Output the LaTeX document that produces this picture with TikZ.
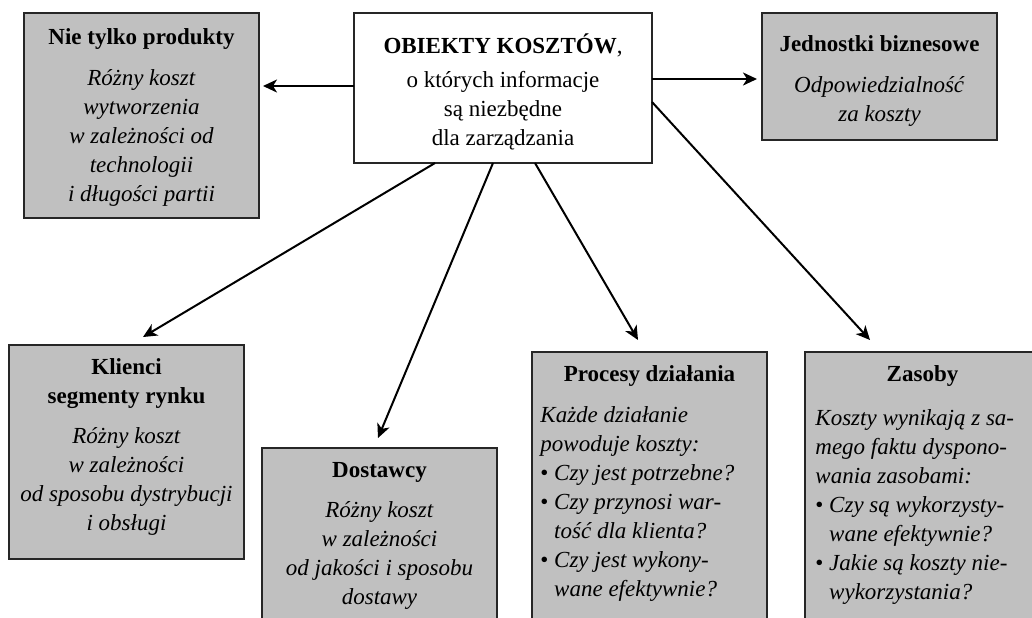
\documentclass[tikz,border=0pt]{standalone}
\usepackage{fontspec}
\setmainfont{Liberation Serif}
\usetikzlibrary{calc,arrows.meta}

\definecolor{boxgray}{RGB}{192,192,192}

\tikzset{
  objbox/.style = {rectangle, draw=black!85, line width=0.6pt, fill=boxgray,
    inner sep=0pt, outer sep=0pt, anchor=north west},
  boxtext/.style = {align=center, inner sep=0pt, anchor=north,
    font=\fontsize{11.5}{14.5}\selectfont},
  listtext/.style = {boxtext, align=left, anchor=north west},
  link/.style = {-{Stealth[length=7pt,width=6.5pt,inset=2pt]}, line width=1pt}
}

\newcommand{\bul}{\textbullet\ }
\newcommand{\nobul}{\hphantom{\textbullet\ }}

\begin{document}
\begin{tikzpicture}[x=0.5pt, y=-0.5pt]
  \clip (0,0) rectangle (1032,617);

  % boxes
  \node[objbox, fill=white, minimum width=149pt, minimum height=75pt] (obj) at (354,13) {};
  \node[objbox, minimum width=117.5pt, minimum height=102.5pt] (prod) at (24,13) {};
  \node[objbox, minimum width=117.5pt, minimum height=63.5pt] (jedn) at (762,13) {};
  \node[objbox, minimum width=117.5pt, minimum height=107pt] (klient) at (9,345) {};
  \node[objbox, minimum width=117.5pt, minimum height=110pt] (dost) at (262,448) {};
  \node[objbox, minimum width=117.5pt, minimum height=160pt] (proc) at (532,352) {};
  \node[objbox, minimum width=117.5pt, minimum height=160pt] (zas) at (805,352) {};

  % texts
  \node[boxtext] (objtxt) at ($(obj.north)+(0,20)$)
    {\textbf{OBIEKTY KOSZTÓW},\\[2.5pt] o których informacje\\ są niezbędne\\ dla zarządzania};
  \node[boxtext] (prodtxt) at ($(prod.north)+(0,15)$)
    {\textbf{Nie tylko produkty}\\[6pt] \textit{Różny koszt}\\ \textit{wytworzenia}\\
     \textit{w zależności od}\\ \textit{technologii}\\ \textit{i długości partii}};
  \node[boxtext] (jedntxt) at ($(jedn.north)+(0,22)$)
    {\textbf{Jednostki biznesowe}\\[6pt] \textit{Odpowiedzialność}\\ \textit{za koszty}};
  \node[boxtext] (klienttxt) at ($(klient.north)+(0,13)$)
    {\textbf{Klienci}\\ \textbf{segmenty rynku}\\[5.5pt] \textit{Różny koszt}\\
     \textit{w zależności}\\ \textit{od sposobu dystrybucji}\\ \textit{i obsługi}};
  \node[boxtext] (dosttxt) at ($(dost.north)+(0,14)$)
    {\textbf{Dostawcy}\\[5.5pt] \textit{Różny koszt}\\ \textit{w zależności}\\
     \textit{od jakości i sposobu}\\ \textit{dostawy}};
  \node[boxtext] (prochead) at ($(proc.north)+(0,13)$) {\textbf{Procesy działania}};
  \node[listtext] (proctxt) at ($(proc.north west)+(8,54)$)
    {\textit{Każde działanie}\\ \textit{powoduje koszty:}\\
     \bul\textit{Czy jest potrzebne?}\\ \bul\textit{Czy przynosi war-}\\
     \nobul\textit{tość dla klienta?}\\ \bul\textit{Czy jest wykony-}\\
     \nobul\textit{wane efektywnie?}};
  \node[boxtext] (zashead) at ($(zas.north west)+(117.5,13)$) {\textbf{Zasoby}};
  \node[listtext] (zastxt) at ($(zas.north west)+(10,57)$)
    {\textit{Koszty wynikają z sa-}\\ \textit{mego faktu dyspono-}\\
     \textit{wania zasobami:}\\ \bul\textit{Czy są wykorzysty-}\\
     \nobul\textit{wane efektywnie?}\\ \bul\textit{Jakie są koszty nie-}\\
     \nobul\textit{wykorzystania?}};

  % arrows
  \draw[link] ([yshift=1pt]obj.west) -- ($([yshift=1pt]obj.west -| prod.east)+(4,0)$);
  \draw[link] ([yshift=4.5pt]obj.east) -- ($([yshift=4.5pt]obj.east -| jedn.west)+(-5,0)$);
  \draw[link] ($(obj.south west)+(81,0)$) -- ($(klient.north west)+(134,-8)$);
  \draw[link] ($(obj.south west)+(139,0)$) -- ($(dost.north west)+(116,-10)$);
  \draw[link] ($(obj.south west)+(181,0)$) -- ($(proc.north west)+(106,-12)$);
  \draw[link] ($(obj.north east)+(0,89)$) -- ($(zas.north west)+(65,-12)$);
\end{tikzpicture}
\end{document}
